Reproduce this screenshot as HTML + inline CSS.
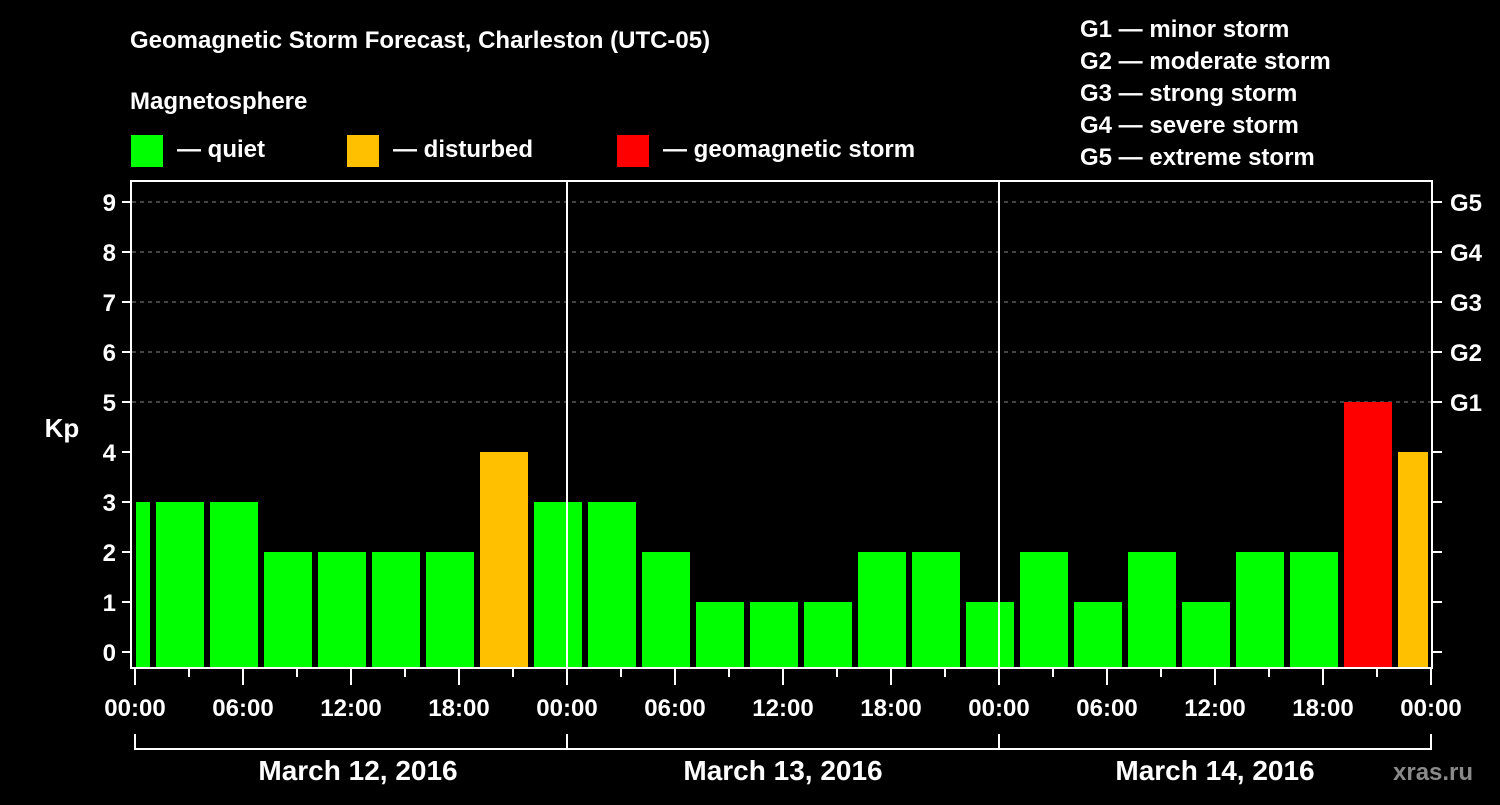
<!DOCTYPE html>
<html><head><meta charset="utf-8"><style>
body{margin:0;background:#000;}
svg text{font-family:"Liberation Sans",sans-serif;font-weight:bold;fill:#fff;}
</style></head><body>
<svg width="1500" height="800" viewBox="0 0 1500 800">
<rect width="1500" height="800" fill="#000"/>
<text x="130" y="48" font-size="24">Geomagnetic Storm Forecast, Charleston (UTC-05)</text>
<text x="130" y="109" font-size="24">Magnetosphere</text>
<g><rect x="131" y="135" width="32" height="32" fill="#00ff00"/><text x="177" y="157" font-size="24">— quiet</text></g>
<g><rect x="347" y="135" width="32" height="32" fill="#ffc000"/><text x="393" y="157" font-size="24">— disturbed</text></g>
<g><rect x="617" y="135" width="32" height="32" fill="#ff0000"/><text x="663" y="157" font-size="24">— geomagnetic storm</text></g>
<g font-size="24">
<text x="1080" y="37">G1 — minor storm</text>
<text x="1080" y="69">G2 — moderate storm</text>
<text x="1080" y="101">G3 — strong storm</text>
<text x="1080" y="133">G4 — severe storm</text>
<text x="1080" y="165">G5 — extreme storm</text>
</g>
<defs><clipPath id="pc"><rect x="136" y="182" width="1292" height="486"/></clipPath></defs>
<g id="grid"></g>
<g id="bars" clip-path="url(#pc)"></g>
<g id="axes"></g>
<text x="358" y="780" font-size="28" text-anchor="middle">March 12, 2016</text>
<text x="783" y="780" font-size="28" text-anchor="middle">March 13, 2016</text>
<text x="1215" y="780" font-size="28" text-anchor="middle">March 14, 2016</text>
<text x="62" y="437" font-size="26" text-anchor="middle">Kp</text>
<text x="1393" y="780" font-size="24" fill="#888" style="fill:#8a8a8a">xras.ru</text>
</svg>
<script>
const kpValues=[3,3,3,2,2,2,2,4,3,3,2,1,1,1,2,2,1,2,1,2,1,2,2,5,4];
const barStartHour=-2;
const yTicks=[0,1,2,3,4,5,6,7,8,9];
const gLabels=["G1","G2","G3","G4","G5"];
const xTickLabels=["00:00","06:00","12:00","18:00","00:00","06:00","12:00","18:00","00:00","06:00","12:00","18:00","00:00"];
const NS="http://www.w3.org/2000/svg";
const X=h=>135+18*h, Y=v=>652-50*v;
function mk(tag,attrs,parent){const e=document.createElementNS(NS,tag);for(const k in attrs)e.setAttribute(k,attrs[k]);document.getElementById(parent).appendChild(e);return e;}
function color(v){return v>=5?"#ff0000":v>=4?"#ffc000":"#00ff00";}
kpValues.forEach((v,i)=>{
  const s=barStartHour+3*i;
  const r=mk("rect",{x:X(s)+3,y:Y(v),width:48,height:668-Y(v),fill:color(v)},"bars");
  
  
});
yTicks.forEach(v=>{
  if(v>=5){const l=mk("line",{x1:132,x2:1431,y1:Y(v),y2:Y(v),stroke:"#888","stroke-dasharray":"4,4","stroke-width":1},"grid");
    }
  mk("line",{x1:122,x2:131,y1:Y(v),y2:Y(v),stroke:"#fff","stroke-width":2},"axes");
  mk("line",{x1:1432,x2:1442,y1:Y(v),y2:Y(v),stroke:"#fff","stroke-width":2},"axes");
  const t=mk("text",{x:116,y:Y(v)+9,"font-size":24,"text-anchor":"end"},"axes");t.textContent=v;
  
  if(v>=5){const g=mk("text",{x:1450,y:Y(v)+9,"font-size":24},"axes");g.textContent=gLabels[v-5];
    }
});
const fr=mk("rect",{x:131,y:181,width:1301,height:487,fill:"none",stroke:"#fff","stroke-width":2},"axes");

[24,48].forEach(h=>{const l=mk("line",{x1:X(h),x2:X(h),y1:181,y2:668,stroke:"#fff","stroke-width":2},"axes");
  });
for(let h=0;h<=72;h+=3){const major=h%6===0;
  mk("line",{x1:X(h),x2:X(h),y1:669,y2:major?685:677,stroke:"#fff","stroke-width":2},"axes");}
xTickLabels.forEach((s,i)=>{const t=mk("text",{x:X(6*i),y:716,"font-size":24,"text-anchor":"middle"},"axes");t.textContent=s;
  });
mk("line",{x1:X(0),x2:X(72),y1:749,y2:749,stroke:"#fff","stroke-width":2},"axes");
[0,24,48,72].forEach(h=>mk("line",{x1:X(h),x2:X(h),y1:734,y2:750,stroke:"#fff","stroke-width":2},"axes"));
</script>
</body></html>
